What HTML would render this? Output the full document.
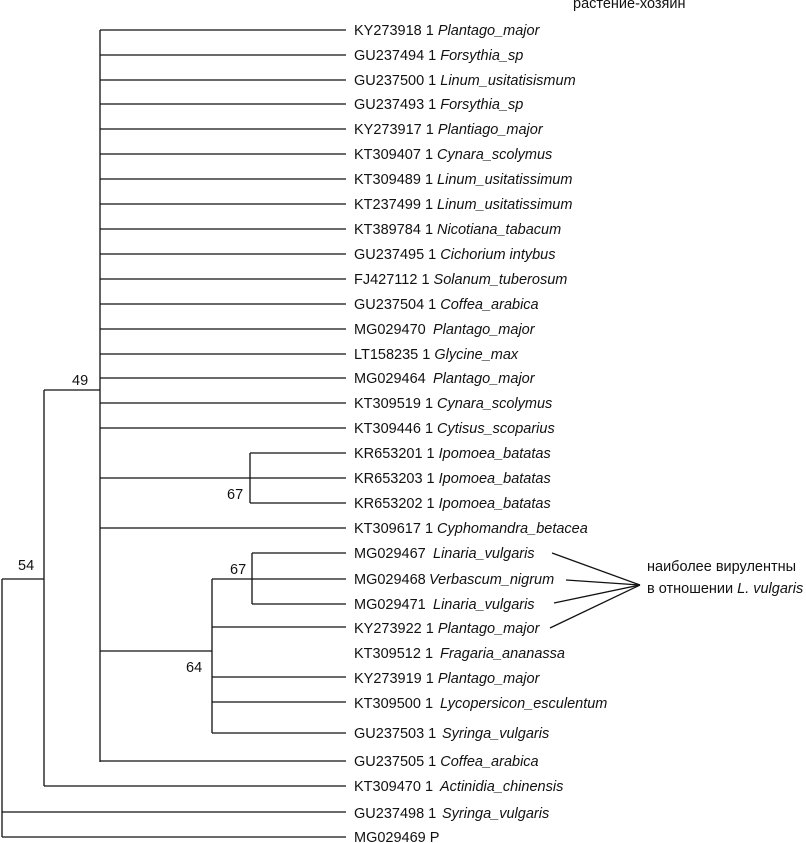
<!DOCTYPE html>
<html><head><meta charset="utf-8"><style>
html,body{margin:0;padding:0;background:#fff;}
svg{display:block;font-family:"Liberation Sans",Arial,sans-serif;font-size:14.5px;fill:#111;}
</style></head><body>
<svg width="806" height="843" viewBox="0 0 806 843" xmlns="http://www.w3.org/2000/svg">
<g stroke="#111" stroke-width="1.3" fill="none">
<line x1="100" y1="30" x2="100" y2="762"/>
<line x1="100" y1="30" x2="346" y2="30"/><line x1="100" y1="55" x2="346" y2="55"/>
<line x1="100" y1="80" x2="346" y2="80"/><line x1="100" y1="104" x2="346" y2="104"/>
<line x1="100" y1="129" x2="346" y2="129"/><line x1="100" y1="154" x2="346" y2="154"/>
<line x1="100" y1="179" x2="346" y2="179"/><line x1="100" y1="204" x2="346" y2="204"/>
<line x1="100" y1="229" x2="346" y2="229"/><line x1="100" y1="254" x2="346" y2="254"/>
<line x1="100" y1="279" x2="346" y2="279"/><line x1="100" y1="304" x2="346" y2="304"/>
<line x1="100" y1="329" x2="346" y2="329"/><line x1="100" y1="354" x2="346" y2="354"/>
<line x1="100" y1="378" x2="346" y2="378"/><line x1="100" y1="403" x2="346" y2="403"/>
<line x1="100" y1="428" x2="346" y2="428"/>
<line x1="100" y1="478" x2="250" y2="478"/>
<line x1="250" y1="453" x2="250" y2="503"/>
<line x1="250" y1="453" x2="346" y2="453"/><line x1="250" y1="478" x2="346" y2="478"/><line x1="250" y1="503" x2="346" y2="503"/>
<line x1="100" y1="528" x2="346" y2="528"/>
<line x1="100" y1="651" x2="212" y2="651"/>
<line x1="212" y1="579" x2="212" y2="733"/>
<line x1="252" y1="553" x2="252" y2="604"/>
<line x1="252" y1="553" x2="346" y2="553"/><line x1="212" y1="579" x2="346" y2="579"/><line x1="252" y1="604" x2="346" y2="604"/>
<line x1="212" y1="627" x2="346" y2="627"/><line x1="212" y1="677" x2="346" y2="677"/>
<line x1="212" y1="702" x2="346" y2="702"/><line x1="212" y1="733" x2="346" y2="733"/>
<line x1="100" y1="761" x2="346" y2="761"/>
<line x1="44" y1="390" x2="100" y2="390"/>
<line x1="44" y1="390" x2="44" y2="786"/>
<line x1="44" y1="786" x2="346" y2="786"/>
<line x1="2" y1="579" x2="44" y2="579"/>
<line x1="2" y1="579" x2="2" y2="837"/>
<line x1="2" y1="812" x2="346" y2="812"/>
<line x1="2" y1="837" x2="346" y2="837"/>
<line x1="552" y1="553" x2="640" y2="585"/>
<line x1="566" y1="580" x2="640" y2="585"/>
<line x1="554" y1="603" x2="640" y2="585"/>
<line x1="550" y1="628" x2="640" y2="585"/>
</g>
<g>
<text x="573" y="8">растение-хозяин</text>
<text x="354" y="35">KY273918 1 <tspan font-style="italic">Plantago_major</tspan></text>
<text x="354" y="60">GU237494 1 <tspan font-style="italic">Forsythia_sp</tspan></text>
<text x="354" y="85">GU237500 1 <tspan font-style="italic">Linum_usitatisismum</tspan></text>
<text x="354" y="109">GU237493 1 <tspan font-style="italic">Forsythia_sp</tspan></text>
<text x="354" y="134">KY273917 1 <tspan font-style="italic">Plantiago_major</tspan></text>
<text x="354" y="159">KT309407 1 <tspan font-style="italic">Cynara_scolymus</tspan></text>
<text x="354" y="184">KT309489 1 <tspan font-style="italic">Linum_usitatissimum</tspan></text>
<text x="354" y="209">KT237499 1 <tspan font-style="italic">Linum_usitatissimum</tspan></text>
<text x="354" y="234">KT389784 1 <tspan font-style="italic">Nicotiana_tabacum</tspan></text>
<text x="354" y="259">GU237495 1 <tspan font-style="italic">Cichorium intybus</tspan></text>
<text x="354" y="284">FJ427112 1 <tspan font-style="italic">Solanum_tuberosum</tspan></text>
<text x="354" y="309">GU237504 1 <tspan font-style="italic">Coffea_arabica</tspan></text>
<text x="354" y="334">MG029470 <tspan x="433" font-style="italic">Plantago_major</tspan></text>
<text x="354" y="359">LT158235 1 <tspan font-style="italic">Glycine_max</tspan></text>
<text x="354" y="383">MG029464 <tspan x="433" font-style="italic">Plantago_major</tspan></text>
<text x="354" y="408">KT309519 1 <tspan font-style="italic">Cynara_scolymus</tspan></text>
<text x="354" y="433">KT309446 1 <tspan font-style="italic">Cytisus_scoparius</tspan></text>
<text x="354" y="458">KR653201 1 <tspan font-style="italic">Ipomoea_batatas</tspan></text>
<text x="354" y="483">KR653203 1 <tspan font-style="italic">Ipomoea_batatas</tspan></text>
<text x="354" y="508">KR653202 1 <tspan font-style="italic">Ipomoea_batatas</tspan></text>
<text x="354" y="533">KT309617 1 <tspan font-style="italic">Cyphomandra_betacea</tspan></text>
<text x="354" y="558">MG029467 <tspan x="433" font-style="italic">Linaria_vulgaris</tspan></text>
<text x="354" y="584">MG029468 <tspan x="429" font-style="italic">Verbascum_nigrum</tspan></text>
<text x="354" y="609">MG029471 <tspan x="433" font-style="italic">Linaria_vulgaris</tspan></text>
<text x="354" y="633">KY273922 1 <tspan font-style="italic">Plantago_major</tspan></text>
<text x="354" y="658">KT309512 1 <tspan x="440" font-style="italic">Fragaria_ananassa</tspan></text>
<text x="354" y="683">KY273919 1 <tspan font-style="italic">Plantago_major</tspan></text>
<text x="354" y="708">KT309500 1 <tspan x="440" font-style="italic">Lycopersicon_esculentum</tspan></text>
<text x="354" y="738">GU237503 1 <tspan x="442" font-style="italic">Syringa_vulgaris</tspan></text>
<text x="354" y="766">GU237505 1 <tspan font-style="italic">Coffea_arabica</tspan></text>
<text x="354" y="791">KT309470 1 <tspan x="440" font-style="italic">Actinidia_chinensis</tspan></text>
<text x="354" y="818">GU237498 1 <tspan x="442" font-style="italic">Syringa_vulgaris</tspan></text>
<text x="354" y="842">MG029469 P</text>
<text x="18" y="570">54</text>
<text x="72" y="385">49</text>
<text x="227" y="499">67</text>
<text x="230" y="574">67</text>
<text x="186" y="672">64</text>
<text x="647" y="571">наиболее вирулентны</text>
<text x="647" y="593">в  отношении <tspan font-style="italic">L. vulgaris</tspan></text>
</g>
</svg>
</body></html>
